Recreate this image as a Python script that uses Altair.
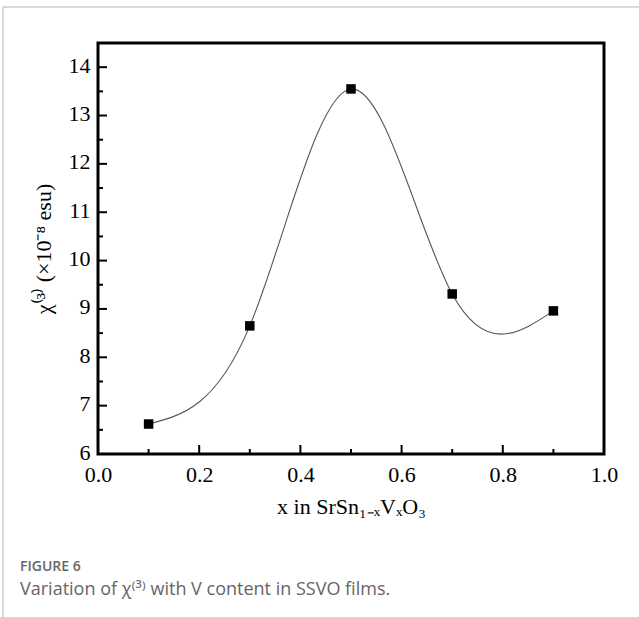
import altair as alt
import pandas as pd

# data
x_vals = [0.1, 0.3, 0.5, 0.7, 0.9]
chi3 = [6.62, 8.65, 13.55, 9.31, 8.96]

x_major = [0.0, 0.2, 0.4, 0.6, 0.8, 1.0]
x_minor = [0.1, 0.3, 0.5, 0.7, 0.9]
y_major = [6, 7, 8, 9, 10, 11, 12, 13, 14]
y_minor = [6.5, 7.5, 8.5, 9.5, 10.5, 11.5, 12.5, 13.5, 14.5]

x_title = "x in SrSn₁₋ₓVₓO₃"
y_title = "χ⁽³⁾ (×10⁻⁸ esu)"
caption_head = "FIGURE 6"
caption_body = "Variation of χ⁽³⁾ with V content in SSVO films."

W, H = 506, 411
SERIF = "Liberation Serif"

df = pd.DataFrame({"x": x_vals, "y": chi3})

xs = alt.Scale(domain=[0, 1], nice=False, zero=False)
ys = alt.Scale(domain=[6, 14.5], nice=False, zero=False)

line = alt.Chart(df).mark_line(
    interpolate="natural", color="#555555", strokeWidth=1.1
).encode(
    x=alt.X("x:Q", scale=xs,
            axis=alt.Axis(values=x_major, format=".1f", title=x_title,
                          ticks=False, domain=False, grid=False, labelFlush=False,
                          labelFont=SERIF, labelFontSize=22, labelColor="#000",
                          labelPadding=10, titleFont=SERIF, titleFontSize=22,
                          titleFontWeight="normal", titleColor="#000",
                          titlePadding=11)),
    y=alt.Y("y:Q", scale=ys,
            axis=alt.Axis(values=y_major, format="d", title=y_title,
                          ticks=False, domain=False, grid=False, labelFlush=False,
                          labelFont=SERIF, labelFontSize=22, labelColor="#000",
                          labelPadding=8, labelOffset=-2, titleFont=SERIF, titleFontSize=22,
                          titleFontWeight="normal", titleColor="#000",
                          titlePadding=13)),
)

pts = alt.Chart(df).mark_square(size=90, color="#000", opacity=1).encode(
    x=alt.X("x:Q", scale=xs), y=alt.Y("y:Q", scale=ys)
)

def xticks(vals, length):
    d = pd.DataFrame({"x": vals})
    return alt.Chart(d).mark_rule(color="#000", strokeWidth=2).encode(
        x=alt.X("x:Q", scale=xs), y=alt.value(H), y2=alt.value(H - length)
    )

def yticks(vals, length):
    d = pd.DataFrame({"y": vals})
    return alt.Chart(d).mark_rule(color="#000", strokeWidth=2).encode(
        y=alt.Y("y:Q", scale=ys), x=alt.value(0), x2=alt.value(length)
    )

ticks = [xticks(x_major, 9), xticks(x_minor, 5), yticks(y_major, 9), yticks(y_minor, 5)]

cap = pd.DataFrame({"t": [caption_head]})
cap1 = alt.Chart(cap).mark_text(
    align="left", baseline="alphabetic", font="Open Sans", fontSize=14,
    fontWeight=600, color="#666666"
).encode(text="t:N", x=alt.value(20 - 98), y=alt.value(571 - 43))

cap2d = pd.DataFrame({"t": [caption_body]})
cap2 = alt.Chart(cap2d).mark_text(
    align="left", baseline="alphabetic", font="Open Sans", fontSize=18,
    color="#666666"
).encode(text="t:N", x=alt.value(20 - 98), y=alt.value(595 - 43))

border_top = alt.Chart(cap).mark_rule(color="#cccccc", strokeWidth=1.5).encode(
    x=alt.value(3 - 98), x2=alt.value(639 - 98), y=alt.value(7 - 43)
)
border_left = alt.Chart(cap).mark_rule(color="#cccccc", strokeWidth=1.5).encode(
    x=alt.value(3 - 98), y=alt.value(7 - 43), y2=alt.value(617 - 43)
)

chart = alt.layer(line, *ticks, pts, cap1, cap2, border_top, border_left).properties(
    width=W, height=H,
    autosize=alt.AutoSizeParams(type="none"),
    padding={"left": 98, "top": 43, "right": 639 - 98 - W, "bottom": 617 - 43 - H},
    background="white",
).configure_view(stroke="#000", strokeWidth=3)

chart.save("out.html", embed_options={"renderer": "svg", "actions": False})
